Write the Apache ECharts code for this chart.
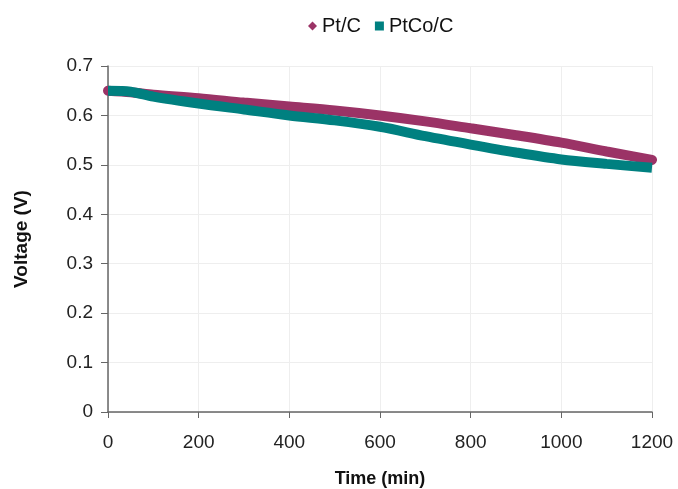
<!DOCTYPE html>
<html><head><meta charset="utf-8">
<script src="https://cdn.jsdelivr.net/npm/echarts@6/dist/echarts.min.js"></script>
<style>html,body{margin:0;padding:0;background:#fff}#c{width:678px;height:489px}</style>
</head><body><div id="c"></div>
<script>
var timeMin = [0, 50, 100, 200, 300, 400, 500, 600, 700, 800, 900, 1000, 1100, 1200];
var ptC =     [0.650, 0.647, 0.642, 0.635, 0.626, 0.618, 0.610, 0.600, 0.588, 0.574, 0.560, 0.545, 0.527, 0.510];
var ptCoC =   [0.650, 0.648, 0.638, 0.624, 0.612, 0.600, 0.590, 0.577, 0.558, 0.541, 0.525, 0.511, 0.502, 0.494];
var xTicks = [0, 200, 400, 600, 800, 1000, 1200];
var yTicks = [0, 0.1, 0.2, 0.3, 0.4, 0.5, 0.6, 0.7];

function pairs(xs, ys){ return xs.map(function(x,i){return [x, ys[i]];}); }

var chart = echarts.init(document.getElementById('c'));
var font = 'Liberation Sans, Arial, sans-serif';
chart.setOption({
  animation: false,
  grid: {left: 108, right: 26, top: 66, bottom: 77, containLabel: false, outerBoundsMode: 'none'},
  legend: {
    top: 11, left: 303, itemGap: 14, itemWidth: 9, itemHeight: 9,
    textStyle: {fontFamily: font, fontSize: 20, color: '#111'},
    data: [
      {name: 'Pt/C', icon: 'diamond', itemStyle: {color: '#9b3366'}},
      {name: 'PtCo/C', icon: 'rect', itemStyle: {color: '#008080'}}
    ]
  },
  xAxis: {
    type: 'value', min: 0, max: 1200, interval: 200,
    name: 'Time (min)', nameLocation: 'middle', nameGap: 58,
    nameTextStyle: {fontFamily: font, fontSize: 18, fontWeight: 'bold', color: '#111'},
    axisLine: {lineStyle: {color: '#666', width: 1.5}},
    axisTick: {show: true, length: 6, lineStyle: {color: '#666'}},
    axisLabel: {fontFamily: font, fontSize: 19, color: '#222', margin: 21,
      formatter: function(v){ return String(v); }},
    splitLine: {show: true, lineStyle: {color: '#eeeeee'}}
  },
  yAxis: {
    type: 'value', min: 0, max: 0.7, interval: 0.1,
    name: 'Voltage (V)', nameLocation: 'middle', nameGap: 77, nameRotate: 90,
    nameTextStyle: {fontFamily: font, fontSize: 19, fontWeight: 'bold', color: '#111'},
    axisLine: {show: true, lineStyle: {color: '#666', width: 1.5}},
    axisTick: {show: true, length: 7, lineStyle: {color: '#666'}},
    axisLabel: {fontFamily: font, fontSize: 19, color: '#222', margin: 15,
      formatter: function(v){ return String(Math.round(v*10)/10); }},
    splitLine: {show: true, lineStyle: {color: '#eeeeee'}}
  },
  series: [
    {name: 'Pt/C', type: 'line', smooth: 0.3, showSymbol: false, symbol: 'diamond',
     data: pairs(timeMin, ptC),
     itemStyle: {color: '#9b3366'},
     lineStyle: {color: '#9b3366', width: 10, cap: 'round'}},
    {name: 'PtCo/C', type: 'line', smooth: 0.3, showSymbol: false, symbol: 'rect',
     data: pairs(timeMin, ptCoC),
     itemStyle: {color: '#008080'},
     lineStyle: {color: '#008080', width: 10, cap: 'butt'}}
  ]
});
</script></body></html>
